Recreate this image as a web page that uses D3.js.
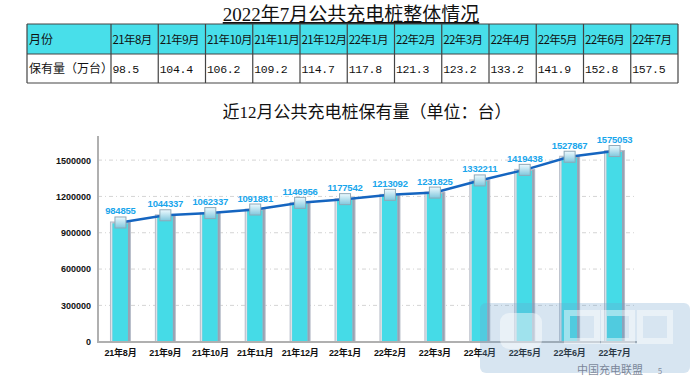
<!DOCTYPE html>
<html><head><meta charset="utf-8">
<script src="https://cdn.jsdelivr.net/npm/d3@7"></script>
<style>body{margin:0;background:#fff}svg{display:block}</style>
</head><body><svg id="c" width="700" height="383"></svg>
<script>
const months = ["21年8月","21年9月","21年10月","21年11月","21年12月","22年1月","22年2月","22年3月","22年4月","22年5月","22年6月","22年7月"];
const tableValues = ["98.5","104.4","106.2","109.2","114.7","117.8","121.3","123.2","133.2","141.9","152.8","157.5"];
const counts = [984855,1044337,1062337,1091881,1146956,1177542,1213092,1231825,1332211,1419438,1527867,1575053];
const yTicks = [0,300000,600000,900000,1200000,1500000];

const svg = d3.select("#c");
const serif = "'Liberation Serif','Noto Sans CJK SC',serif";
const mono = "'Liberation Mono','Noto Sans CJK SC',monospace";
const cjk = "'Noto Sans CJK SC',sans-serif";
const boldf = "'Liberation Sans','Noto Sans CJK SC',sans-serif";

// ---- Title 1 ----
svg.append("text").attr("x",351).attr("y",21).attr("text-anchor","middle")
  .attr("font-family",serif).attr("font-size",19).attr("fill","#111")
  .attr("text-decoration","underline").text("2022年7月公共充电桩整体情况");

// ---- Table ----
const tx0 = 27, tx1 = 111, tx2 = 678, ty0 = 24, ty1 = 54, ty2 = 83;
const colX = d3.scaleBand().domain(months).range([tx1, tx2]);
svg.append("rect").attr("x",tx0).attr("y",ty0).attr("width",tx2-tx0).attr("height",ty1-ty0).attr("fill","#48dfea");
const tg = svg.append("g");
[ty0,ty1,ty2].forEach(y=>tg.append("line").attr("x1",tx0).attr("x2",tx2).attr("y1",y).attr("y2",y).attr("stroke","#444").attr("stroke-width",1.2));
[tx0].concat(months.map(m=>colX(m))).concat([tx2]).forEach(x=>tg.append("line").attr("x1",x).attr("x2",x).attr("y1",ty0).attr("y2",ty2).attr("stroke","#444").attr("stroke-width",1.2));
tg.append("text").attr("x",tx0+2).attr("y",44).attr("font-family",cjk).attr("font-size",12).attr("fill","#111").text("月份");
tg.append("text").attr("x",tx0+2).attr("y",73).attr("font-family",cjk).attr("font-size",12).attr("fill","#111").text("保有量（万台）");
months.forEach((m,i)=>{
  tg.append("text").attr("x",colX(m)+1.5).attr("y",44).attr("font-family",cjk).attr("font-size",11.5).attr("letter-spacing",-0.6).attr("fill","#111").text(m);
  tg.append("text").attr("x",colX(m)+1.5).attr("y",73).attr("font-family",mono).attr("font-size",11.5).attr("letter-spacing",-0.3).attr("fill","#111").text(tableValues[i]);
});

// ---- Chart title ----
svg.append("text").attr("x",367).attr("y",118).attr("text-anchor","middle")
  .attr("font-family",serif).attr("font-size",17).attr("fill","#111").text("近12月公共充电桩保有量（单位：台）");

// ---- Chart ----
const x = d3.scaleBand().domain(months).range([98, 637]);
const y = d3.scaleLinear().domain([0, 1700000]).range([341.7, 135.9]);

const grid = svg.append("g");
yTicks.filter(t=>t>0).forEach(t=>grid.append("line").attr("x1",98).attr("x2",637).attr("y1",y(t)).attr("y2",y(t))
  .attr("stroke","#d4d4d4").attr("stroke-width",1).attr("stroke-dasharray","4,3,1,3"));

const yAxis = svg.append("g").attr("transform","translate(98,0)")
  .call(d3.axisLeft(y).tickValues(yTicks).tickSize(0).tickPadding(7).tickFormat(d3.format("d")));
yAxis.select(".domain").remove();
yAxis.selectAll("text").attr("font-family",boldf).attr("font-weight","bold").attr("font-size",9).attr("fill","#111");

// bars
const bw = 21;
const bars = svg.append("g");
counts.forEach((v,i)=>{
  const cx = x(months[i]) + x.bandwidth()/2;
  const top = y(v), h = y(0) - top;
  bars.append("rect").attr("x",cx-bw/2).attr("y",top-1).attr("width",bw).attr("height",h+1).attr("fill","#b7bdc9");
  bars.append("rect").attr("x",cx-bw/2+1).attr("y",top).attr("width",1.5).attr("height",h).attr("fill","#dde1e8");
  bars.append("rect").attr("x",cx-bw/2+2.5).attr("y",top+1).attr("width",bw-5.5).attr("height",h-1).attr("fill","#45dbe7");
  bars.append("rect").attr("x",cx+bw/2-3).attr("y",top).attr("width",2).attr("height",h).attr("fill","#98a2b3");
});

// axes lines
svg.append("line").attr("x1",98).attr("x2",98).attr("y1",136).attr("y2",342).attr("stroke","#b0b0b0").attr("stroke-width",2);
svg.append("line").attr("x1",97).attr("x2",637).attr("y1",342).attr("y2",342).attr("stroke","#b0b0b0").attr("stroke-width",2);

const xAxis = svg.append("g").attr("transform","translate(0,342)")
  .call(d3.axisBottom(x).tickSize(0).tickPadding(8));
xAxis.select(".domain").remove();
xAxis.selectAll("text").attr("font-family",boldf).attr("font-weight","bold").attr("font-size",9).attr("fill","#111").attr("letter-spacing",-0.2);

// line
const defs = svg.append("defs");
const lg = defs.append("linearGradient").attr("id","mk").attr("x1",0).attr("y1",0).attr("x2",0).attr("y2",1);
lg.append("stop").attr("offset","0%").attr("stop-color","#eefaff");
lg.append("stop").attr("offset","100%").attr("stop-color","#7fc7dd");
const line = d3.line().x((d,i)=>x(months[i])+x.bandwidth()/2).y(d=>y(d));
svg.append("path").datum(counts).attr("d",line).attr("fill","none").attr("stroke","#1565c0").attr("stroke-width",2.5);

const mk = svg.append("g");
counts.forEach((v,i)=>{
  const cx = x(months[i]) + x.bandwidth()/2, cy = y(v);
  mk.append("rect").attr("x",cx-5.5).attr("y",cy-5.5).attr("width",11).attr("height",11)
    .attr("fill","url(#mk)").attr("stroke","#8fa9b8").attr("stroke-width",1);
  mk.append("text").attr("x",cx).attr("y",cy-8).attr("text-anchor","middle")
    .attr("font-family",boldf).attr("font-weight","bold").attr("font-size",9.5).attr("letter-spacing",-0.2).attr("fill","#19a6ec").text(v);
});

// watermark (logo overlay)
const wm = svg.append("g");
wm.append("rect").attr("x",480).attr("y",303).attr("width",210).attr("height",70).attr("rx",6)
  .attr("fill","rgba(110,160,205,0.28)");
wm.append("rect").attr("x",500).attr("y",313).attr("width",42).attr("height",36).attr("rx",9)
  .attr("fill","rgba(255,255,255,0.45)");
[[567,313,30,28],[604,313,28,28],[640,313,30,28]].forEach(r=>wm.append("rect").attr("x",r[0]).attr("y",r[1]).attr("width",r[2]).attr("height",r[3])
  .attr("fill","none").attr("stroke","rgba(255,255,255,0.45)").attr("stroke-width",6));
wm.append("text").attr("x",610).attr("y",374).attr("text-anchor","middle").attr("font-family",cjk)
  .attr("font-size",11).attr("fill","rgba(90,100,120,0.75)").text("中国充电联盟");
wm.append("text").attr("x",660).attr("y",374).attr("text-anchor","middle").attr("font-family",cjk)
  .attr("font-size",8).attr("fill","rgba(90,100,120,0.7)").text("5");
</script></body></html>
